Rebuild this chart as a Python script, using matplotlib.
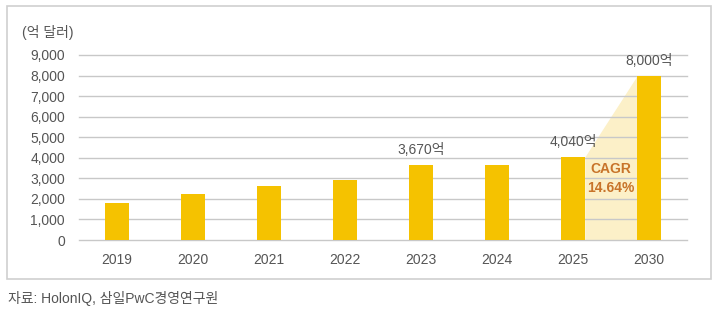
import matplotlib
matplotlib.use("Agg")
from matplotlib import pyplot as plt
from matplotlib.patches import Rectangle

plt.rcParams['font.family'] = ['Liberation Sans', 'Noto Sans CJK KR']

years = ['2019', '2020', '2021', '2022', '2023', '2024', '2025', '2030']
values = [1800, 2240, 2630, 2920, 3670, 3660, 4040, 8000]
labels = {4: '3,670억', 6: '4,040억', 7: '8,000억'}
yticks = [0, 1000, 2000, 3000, 4000, 5000, 6000, 7000, 8000, 9000]
cagr_text = 'CAGR\n14.64%'

bar_color = '#F5C200'
grey = '#555555'

fig = plt.figure(figsize=(7.2, 3.17), dpi=100)
ax = fig.add_axes([79/720, 1 - 240/317, 608/720, 185/317])

# outer frame
fig.patches.append(Rectangle((7/720, 1 - 279/317), 704/720, 273/317,
                             transform=fig.transFigure, fill=False,
                             edgecolor='#cfcfcf', linewidth=1.2))

x = list(range(len(years)))
w = 0.31
for v in yticks:
    ax.axhline(v, color='#c8c8c8', linewidth=1.0, zorder=1, clip_on=False)

# shaded growth area between 2025 and 2030
x0, x1 = 6 + w/2, 7 - w/2
ax.fill_between([x0, x1], [values[6], values[7]], 0, color='#FCF0C8', linewidth=0, zorder=0.5)

ax.bar(x, values, width=w, color=bar_color, zorder=2)

for i, t in labels.items():
    ax.text(i, values[i] + 380, t, ha='center', va='bottom', fontsize=10, color=grey)

ax.text((x0 + x1) / 2, 2980, cagr_text, ha='center', va='center', fontsize=10,
        color='#C8742A', fontweight='bold', linespacing=1.45, zorder=3)

ax.set_xlim(-0.5, 7.5)
ax.set_ylim(0, 9000)
ax.set_xticks(x)
ax.set_xticklabels(years)
ax.set_yticks(yticks)
ax.set_yticklabels([f'{v:,}' for v in yticks])
ax.tick_params(axis='both', length=0, labelsize=10, colors=grey)
ax.tick_params(axis='x', pad=9)
ax.tick_params(axis='y', pad=10)
for s in ax.spines.values():
    s.set_visible(False)

fig.text(22/720, 1 - 33/317, '(억 달러)', fontsize=10, color=grey, va='center')
fig.text(8/720, 1 - 298/317, '자료: HolonIQ, 삼일PwC경영연구원', fontsize=10, color=grey, va='center')

fig.savefig('out.png', dpi=100)
